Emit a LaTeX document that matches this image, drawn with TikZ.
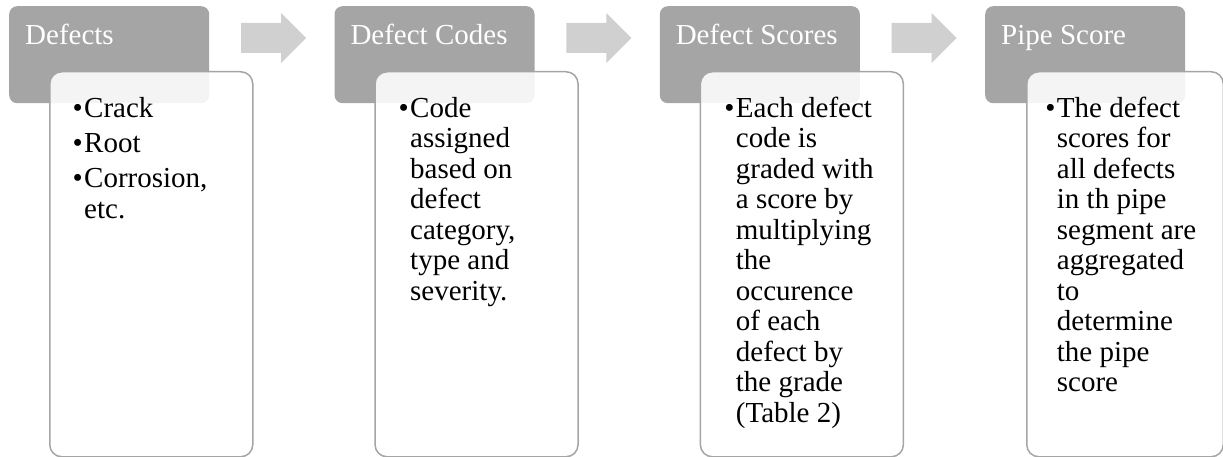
\documentclass[tikz,border=0pt]{standalone}
\usepackage{fontspec}
\setmainfont{Liberation Serif}
\definecolor{hdgray}{HTML}{A5A5A5}
\definecolor{arrgray}{HTML}{D0D0D0}
\newcommand{\txtsize}{\fontsize{29}{30.5}\selectfont}
\begin{document}
\begin{tikzpicture}[x=1pt,y=-1pt,
  head/.style={fill=hdgray, rounded corners=8pt, minimum width=200pt,
    minimum height=97pt, inner sep=0pt, anchor=north west},
  card/.style={draw=hdgray, line width=1.5pt, fill=white, fill opacity=0.88,
    rounded corners=12pt, minimum width=203pt, minimum height=385pt,
    inner sep=0pt, anchor=north west},
  title/.style={text=white, anchor=base west, inner sep=0pt, font=\txtsize},
  item/.style={anchor=base west, inner sep=0pt, font=\txtsize},
  dot/.style={anchor=base east, inner sep=0pt, font=\txtsize},
  flow/.style={fill=arrgray}]
\useasboundingbox (0,0) rectangle (1223,457);

% header tabs
\node[head] (h1) at (9,6) {};
\node[head] (h2) at (334.3,6) {};
\node[head] (h3) at (659.6,6) {};
\node[head] (h4) at (985,6) {};

% block arrows between the tabs
\foreach \c/\x in {a1/241, a2/566.3, a3/891.6}{
  \coordinate (\c) at (\x,38);
  \fill[flow] (\c) ++(0,-15) -- ++(40,0) -- ++(0,-10) -- ++(25,25)
    -- ++(-25,25) -- ++(0,-10) -- ++(-40,0) -- cycle;
}

% content cards, overlapping the tabs
\node[card] (c1) at (49,71) {};
\node[card] (c2) at (374.3,71) {};
\node[card] (c3) at (699.6,71) {};
\node[card, minimum width=196.5pt] (c4) at (1026,71) {};

% tab titles
\node[title] (t1) at (25,45) {Defects};
\node[title] (t2) at (350.3,45) {Defect Codes};
\node[title] (t3) at (675.6,45) {Defect Scores};
\node[title] (t4) at (1001,45) {Pipe Score};

% card 1
\node[dot] (b1a) at (83,117.3) {•};
\node[item] (i1a) at (84,117.3) {Crack};
\node[dot] (b1b) at (83,152.3) {•};
\node[item] (i1b) at (84,152.3) {Root};
\node[dot] (b1c) at (83,188) {•};
\node[item] (i1c) at (84,188) {\begin{tabular}[t]{@{}l@{}}Corrosion,\\etc.\end{tabular}};

% card 2
\node[dot] (b2) at (409,117.3) {•};
\node[item] (i2) at (410,117.3) {\begin{tabular}[t]{@{}l@{}}Code\\assigned\\based on\\defect\\category,\\type and\\severity.\end{tabular}};

% card 3
\node[dot] (b3) at (734.7,117.3) {•};
\node[item] (i3) at (735.7,117.3) {\begin{tabular}[t]{@{}l@{}}Each defect\\code is\\graded with\\a score by\\multiplying\\the\\occurence\\of each\\defect by\\the grade\\(Table 2)\end{tabular}};

% card 4
\node[dot] (b4) at (1055.7,117.3) {•};
\node[item] (i4) at (1056.7,117.3) {\begin{tabular}[t]{@{}l@{}}The defect\\scores for\\all defects\\in th pipe\\segment are\\aggregated\\to\\determine\\the pipe\\score\end{tabular}};
\end{tikzpicture}
\end{document}
